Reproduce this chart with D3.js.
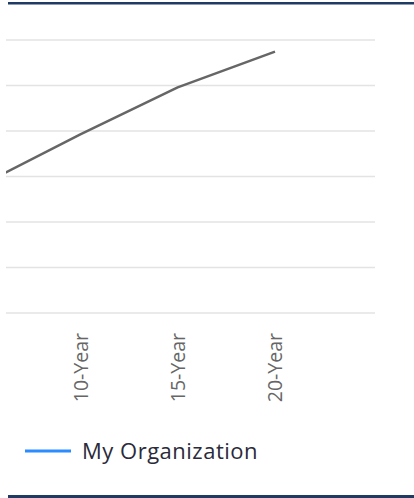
<!DOCTYPE html>
<html>
<head>
<meta charset="utf-8">
<script src="https://cdn.jsdelivr.net/npm/d3@7"></script>
<style>
  body { margin: 0; background: #fff; }
  text { font-family: "Open Sans", sans-serif; }
</style>
</head>
<body>
<svg id="chart"></svg>
<script>
const categories = ["5-Year", "10-Year", "15-Year", "20-Year"];
const myOrg = [5.66, 7.85, 9.92, 11.49];
const yTicks = [0, 2, 4, 6, 8, 10, 12];
const seriesName = "My Organization";

var width = 414, height = 498;
var svg = d3.select("#chart")
    .attr("width", width)
    .attr("height", height);

// plot area (chart is scrolled, so first category sits off the left edge)
var plotLeft = 6, plotRight = 375, plotTop = 40, plotBottom = 313;

var x = d3.scalePoint()
    .domain(categories)
    .range([-17, 275]);

var y = d3.scaleLinear()
    .domain([0, 12])
    .range([plotBottom, plotTop]);

// frame lines top / bottom
svg.append("rect")
    .attr("x", 8).attr("y", 2)
    .attr("width", width - 8).attr("height", 2.5)
    .attr("fill", "#1f3b63");
svg.append("rect")
    .attr("x", 8).attr("y", 495)
    .attr("width", width - 8).attr("height", 3)
    .attr("fill", "#1f3b63");

/* gridlines */
svg.append("g")
    .selectAll("line")
    .data(yTicks)
    .enter().append("line")
    .attr("x1", plotLeft)
    .attr("x2", plotRight)
    .attr("y1", function (d) { return y(d); })
    .attr("y2", function (d) { return y(d); })
    .attr("stroke", "#e3e3e3")
    .attr("stroke-width", 1.5);

svg.append("clipPath")
    .attr("id", "plotclip")
    .append("rect")
    .attr("x", plotLeft).attr("y", 0)
    .attr("width", plotRight - plotLeft).attr("height", plotBottom + 5);

var line = d3.line()
    .x(function (d, i) { return x(categories[i]); })
    .y(function (d) { return y(d); });

svg.append("path")
    .datum(myOrg)
    .attr("clip-path", "url(#plotclip)")
    .attr("d", line)
    .attr("fill", "none")
    .attr("stroke", "#666666")
    .attr("stroke-width", 2.5)
    .attr("stroke-linejoin", "round");

// x axis labels, rotated
var xAxis = d3.axisBottom(x).tickSize(0).tickPadding(0);
var gx = svg.append("g")
    .attr("transform", "translate(0," + plotBottom + ")")
    .call(xAxis);
gx.select(".domain").remove();
gx.selectAll(".tick")
    .filter(function (d) { return x(d) < plotLeft; })
    .remove();
gx.selectAll(".tick text")
    .attr("transform", "rotate(-90)")
    .attr("x", -20)
    .attr("y", 0)
    .attr("dy", "0.35em")
    .attr("text-anchor", "end")
    .attr("font-family", "Open Sans, sans-serif")
    .attr("font-size", 19.5)
    .attr("fill", "#666");

/* legend */
var legend = svg.append("g")
    .attr("transform", "translate(25,451)");
legend.append("line")
    .attr("x1", 0).attr("x2", 46)
    .attr("y1", 0).attr("y2", 0)
    .attr("stroke", "#2b8cff")
    .attr("stroke-width", 3);
legend.append("text")
    .attr("x", 57)
    .attr("y", 8)
    .attr("font-size", 22)
    .attr("letter-spacing", 0.5)
    .attr("fill", "#2a2a3a")
    .text(seriesName);
</script>
</body>
</html>
